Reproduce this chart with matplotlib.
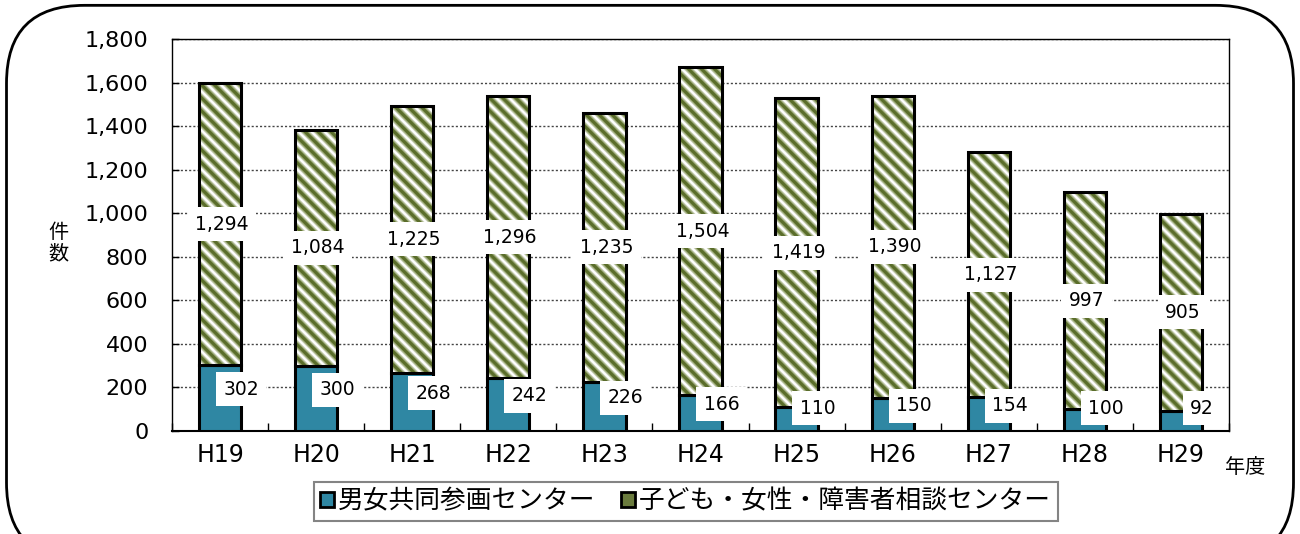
import numpy as np
import matplotlib
matplotlib.use('Agg')
import matplotlib.pyplot as plt
from matplotlib.patches import FancyBboxPatch, Patch
from matplotlib.collections import LineCollection
from matplotlib.transforms import IdentityTransform

plt.rcParams['font.family'] = ['DejaVu Sans', 'Noto Sans CJK JP']

years = ['H19', 'H20', 'H21', 'H22', 'H23', 'H24', 'H25', 'H26', 'H27', 'H28', 'H29']
center = [302, 300, 268, 242, 226, 166, 110, 150, 154, 100, 92]
consult = [1294, 1084, 1225, 1296, 1235, 1504, 1419, 1390, 1127, 997, 905]
names = ['男女共同参画センター', '子ども・女性・障害者相談センター']

blue = '#2f87a3'
green = '#5a6d2a'

fig = plt.figure(figsize=(13, 5.34), dpi=100)

# rounded outer frame
frame = FancyBboxPatch((0.005, -0.05), 0.99, 1.04, boxstyle='round,pad=0,rounding_size=0.06',
                       transform=fig.transFigure, fill=False, lw=2, ec='black',
                       mutation_aspect=1300 / 534)
fig.patches.append(frame)

ax = fig.add_axes([0.1323, 0.1929, 0.8131, 0.734])
x = np.arange(len(years))
w = 0.44
ax.set_xlim(-0.5, len(years) - 0.5)
ax.set_ylim(0, 1800)

ax.bar(x, center, w, color=blue, edgecolor='black', lw=2.2, zorder=3)
bars = ax.bar(x, consult, w, bottom=center, color='white', lw=0, zorder=3)

# diagonal gradient stripes, drawn in pixels and clipped to each bar
period = 13.0
layers = [(7.0, '#c9d0b6'), (5.0, '#95a36f'), (3.0, green)]
for p in bars:
    (x0, y0), (x1, y1) = ax.transData.transform([(p.get_x(), p.get_y()),
                                                 (p.get_x() + p.get_width(), p.get_y() + p.get_height())])
    h = y1 - y0
    offs = np.arange(x0 - h - period, x1 + period, period)
    segs = [[(o, y1 + 10), (o + h + 30, y1 - h - 20)] for o in offs]
    for lw_px, col in layers:
        lc = LineCollection(segs, colors=col, linewidths=lw_px * 0.72, zorder=3.5)
        lc.set_transform(IdentityTransform())
        ax.add_collection(lc, autolim=False)
        lc.set_clip_path(p.get_path(), p.get_transform())
ax.bar(x, consult, w, bottom=center, color='none', edgecolor='black', lw=2.2, zorder=4)

box = dict(boxstyle='square,pad=0.4', fc='white', ec='none')
for i in range(len(years)):
    yb = max(center[i] / 2 + 40, 105)
    ax.text(x[i] + 0.22, yb, f'{center[i]:,}', ha='center', va='center', fontsize=13.5,
            bbox=box, zorder=6)
    yg = center[i] + consult[i] / 2
    ax.text(x[i] + 0.02, yg, f'{consult[i]:,}', ha='center', va='center', fontsize=13.5,
            bbox=box, zorder=6)

ax.set_yticks(np.arange(0, 1801, 200))
ax.set_yticklabels([f'{v:,}' for v in range(0, 1801, 200)], fontsize=16)
ax.set_xticks(x)
ax.set_xticklabels(years, fontsize=17)
ax.set_xticks(np.arange(-0.5, len(years)), minor=True)
ax.tick_params(axis='x', which='major', length=0, pad=9)
ax.tick_params(axis='x', which='minor', direction='in', length=6, width=1)
ax.tick_params(axis='y', direction='in', length=5, width=1, pad=17)
ax.yaxis.grid(True, linestyle=(0, (1.5, 1.5)), color='#444444', lw=1, zorder=1)
for s in ax.spines.values():
    s.set_linewidth(1)
ax.spines['bottom'].set_linewidth(1.5)

fig.text(0.045, 0.545, '件\n数', fontsize=14.5, ha='center', va='center', linespacing=1.15)
fig.text(0.958, 0.125, '年度', fontsize=14.5, ha='center', va='center')

handles = [Patch(fc=blue, ec='black', lw=2), Patch(fc='#6b7c3e', ec='black', lw=2)]
leg = ax.legend(handles, names, loc='upper center', bbox_to_anchor=(0.486, -0.13), ncol=2,
                fontsize=18.5, frameon=True, fancybox=False, edgecolor='#666666',
                handlelength=0.55, handleheight=0.55, handletextpad=0.15, columnspacing=1.0,
                borderpad=0.25, borderaxespad=0)
leg.get_frame().set_linewidth(1.5)

fig.savefig('out.png', dpi=100)
